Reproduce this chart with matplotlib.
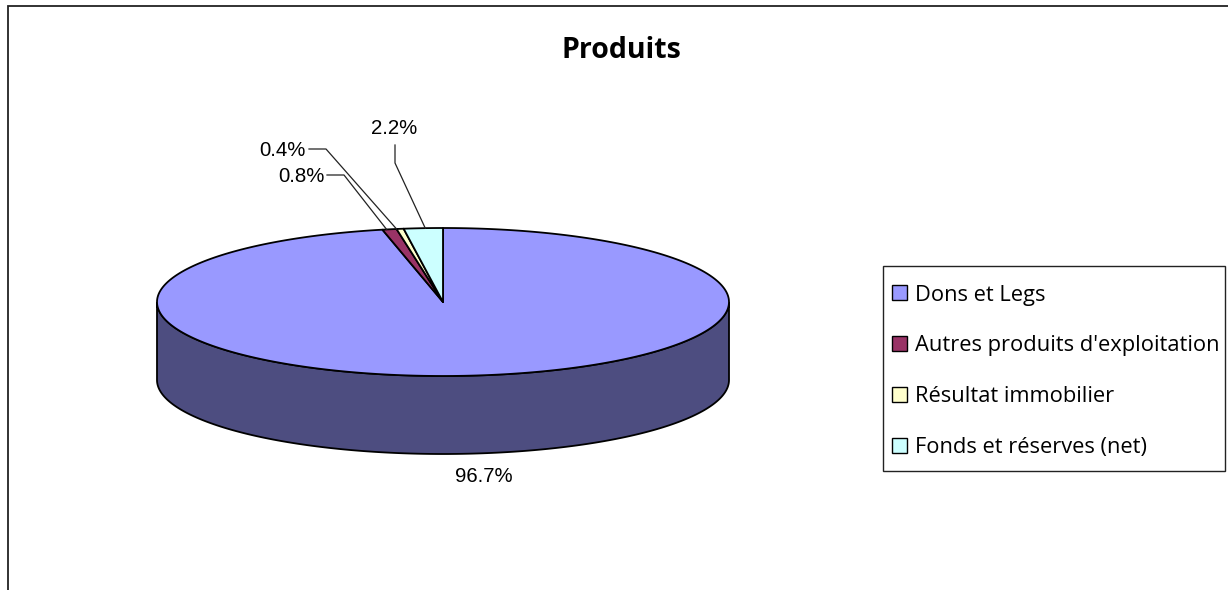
import numpy as np
import matplotlib
matplotlib.use('Agg')
import matplotlib.pyplot as plt
from matplotlib.patches import Patch, Polygon, Rectangle

# Data
labels = ['Dons et Legs', 'Autres produits d\'exploitation', 'Résultat immobilier', 'Fonds et réserves (net)']
values = [96.7, 0.8, 0.4, 2.2]
colors = ['#9999FF', '#993366', '#FFFFCC', '#CCFFFF']
pct_labels = ['96.7%', '0.8%', '0.4%', '2.2%']

W, H = 1228, 590
cx, cy, rx, ry, depth = 443, 302, 286, 74, 78

fig = plt.figure(figsize=(W / 100, H / 100), dpi=100)
ax = fig.add_axes([0, 0, 1, 1])
ax.set_xlim(0, W)
ax.set_ylim(H, 0)
ax.axis('off')

# outer frame, bottom and right are cut off in the original
ax.plot([8, 8, W], [H, 6, 6], color='#222222', lw=1.3, solid_joinstyle='miter')


def rim(a0, a1, n=300):
    # angles clockwise from 12 o'clock, in degrees
    t = np.radians(np.linspace(a0, a1, n))
    return cx + rx * np.sin(t), cy - ry * np.cos(t)


# side of the cylinder (front half only)
x, y = rim(90, 270)
side = np.r_[np.c_[x, y], np.c_[x[::-1], y[::-1] + depth]]
ax.add_patch(Polygon(side, closed=True, fc='#4D4D80', ec='black', lw=1.3, zorder=1))

# top of the pie, shares rounded so they add to 100.1
angles = np.r_[0, np.cumsum(values)] / sum(values) * 360
anchors = []
for i, v in enumerate(values):
    x, y = rim(angles[i], angles[i + 1])
    pts = np.r_[[[cx, cy]], np.c_[x, y]]
    ax.add_patch(Polygon(pts, closed=True, fc=colors[i], ec='black', lw=1.3, zorder=2, joinstyle='round'))
    # leaders of the small slices land near the start of the slice
    a = angles[i] + (angles[i + 1] - angles[i]) * [0.5, 0.3, 0.0, 0.55][i]
    mx, my = rim(a, a, 2)
    anchors.append((mx[0], my[0]))

# data labels
lab_font = dict(family='Liberation Sans', fontsize=14.7, color='black', zorder=4)
ax.text(484, 477, pct_labels[0], ha='center', va='center', **lab_font)
ax.text(325, 176, pct_labels[1], ha='right', va='center', **lab_font)
ax.text(306, 150, pct_labels[2], ha='right', va='center', **lab_font)
ax.text(394, 129, pct_labels[3], ha='center', va='center', **lab_font)

# leader lines
line = dict(color='#222222', lw=0.9, zorder=3)
ax.plot([327, 344, anchors[1][0]], [175, 175, anchors[1][1]], **line)
ax.plot([309, 326, anchors[2][0]], [149, 149, anchors[2][1]], **line)
ax.plot([395, 395, anchors[3][0]], [145, 163, anchors[3][1]], **line)

# title
ax.text(621, 51, 'Produits', ha='center', va='center', family='Open Sans', fontweight='bold',
        fontsize=20.5, color='black')

# legend, frame drawn apart because its padding differs in x and y
ax.add_patch(Rectangle((883, 266), 342, 205, fc='white', ec='#222222', lw=1.0, zorder=5))
handles = [Patch(fc=c, ec='black', lw=1.0) for c in colors]
leg = ax.legend(handles, labels, loc='upper left',
                bbox_to_anchor=(892 / W, 1 - 284.5 / H), bbox_transform=fig.transFigure,
                prop={'family': 'Open Sans', 'size': 15.75}, frameon=False,
                borderaxespad=0, borderpad=0,
                labelspacing=1.36, handlelength=0.69, handleheight=0.69, handletextpad=0.37)
leg.set_zorder(6)

fig.savefig('out.png', dpi=100, facecolor='white')
